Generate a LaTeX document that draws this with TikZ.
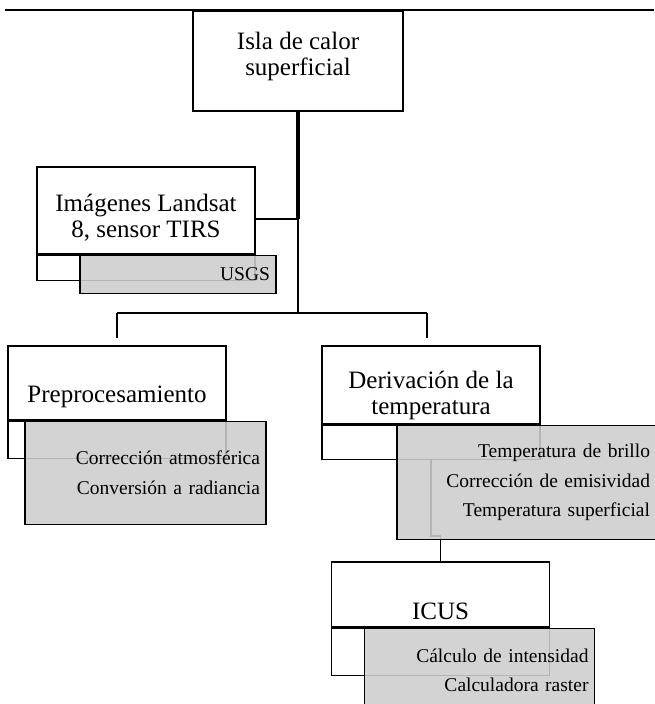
\documentclass[tikz,border=0pt]{standalone}
\usepackage{fontspec}
\setmainfont{Liberation Serif}
\usepackage{xcolor}
\usepackage{tikz}
\usetikzlibrary{positioning}
\definecolor{IslaGray}{HTML}{CDCDCD}

\begin{document}
\begin{tikzpicture}[
  x=1pt, y=-1pt,
  box/.style={draw, fill=white, line width=1.2pt, inner sep=0pt, minimum width=218pt},
  shade/.style={draw, line width=1.2pt, fill=IslaGray, fill opacity=.88, text opacity=1, anchor=north west, align=right, inner xsep=6pt, inner ysep=0pt, font=\fontsize{19.5}{29.5}\selectfont},
  title/.style={align=center, inner sep=0pt, font=\fontsize{25}{26}\selectfont},
  conn/.style={line width=1.6pt},
  trunk/.style={line width=3.2pt}
]
  \useasboundingbox (0,0) rectangle (654,704);
  \draw[line width=1.2pt] (5,10) -- (654,10);

  % boxes
  \node[box, minimum width=210pt, minimum height=100pt] (isla) at (298,61) {};
  \node[box, minimum height=87pt] (landsat) at (146,210.5) {};
  \node[box, minimum height=25pt, below=0pt of landsat] (landsat-low) {};
  \node[box, minimum height=74pt] (pre) at (117,383) {};
  \node[box, minimum height=37pt, below=0pt of pre] (pre-low) {};
  \node[box, minimum height=78pt] (der) at (431,385) {};
  \node[box, minimum height=34pt, below=0pt of der] (der-low) {};
  \node[box, minimum height=65pt] (icus) at (440.5,594.5) {};
  \node[box, minimum height=47pt, below=0pt of icus] (icus-low) {};

  % connectors
  \coordinate (hub) at (298,219);
  \coordinate (fork) at (298,313);
  \coordinate (drop-r) at ([xshift=-4pt]der.north);
  \draw[trunk] (isla.south) -- (hub);
  \draw[conn] (landsat.east |- hub) -- (hub) -- (fork);
  \draw[conn] (pre.north |- fork) -- (drop-r |- fork);
  \draw[conn, shorten >=7pt] (pre.north |- fork) -- (pre.north);
  \draw[conn, shorten >=7pt] (drop-r |- fork) -- (drop-r);
  \draw[conn] (der-low.south) -- ++(0,76) -| (icus.north);

  % grey boxes
  \node[shade, minimum width=196pt, minimum height=38pt, text width=184pt] (usgs) at ([xshift=43pt]landsat-low.north west) {USGS};
  \node[shade, minimum width=241pt, minimum height=103pt, text width=229pt] (pre-gray) at ([xshift=17pt]pre-low.north west) {Corrección atmosférica\\Conversión a radiancia};
  \node[shade, minimum width=265pt, minimum height=114.5pt, text width=241pt] (der-gray) at ([xshift=75pt]der-low.north west) {Temperatura de brillo\\Corrección de emisividad\\Temperatura superficial};
  \node[shade, minimum width=230pt, minimum height=84pt, text width=218pt] (icus-gray) at ([xshift=33pt]icus-low.north west) {Cálculo de intensidad\\Calculadora raster};

  % titles
  \node[title] (isla-txt) at (298,56.7) {Isla de calor\\superficial};
  \node[title] (landsat-txt) at (146,218) {Imágenes Landsat\\8, sensor TIRS};
  \node[title] (pre-txt) at (117,396.5) {Preprocesamiento};
  \node[title] (der-txt) at (431,395.5) {Derivación de la\\temperatura};
  \node[title] (icus-txt) at (440.5,611) {ICUS};
\end{tikzpicture}
\end{document}
